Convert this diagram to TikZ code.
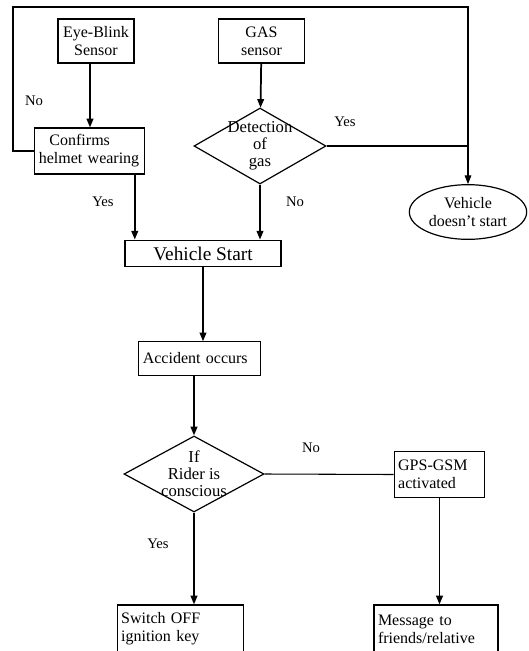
\documentclass[tikz,border=0pt]{standalone}
\usepackage{fontspec}
\setmainfont{Liberation Serif}
\usetikzlibrary{arrows.meta}
\usetikzlibrary{calc}
\usetikzlibrary{shapes.geometric}

\begin{document}
\begin{tikzpicture}[x=0.75pt, y=-0.75pt,
    box/.style={draw, rectangle, line width=0.9pt, inner sep=3pt, font=\fontsize{12}{13.5}\selectfont},
    decision/.style={draw, diamond, line width=0.9pt, inner sep=0pt},
    inside/.style={align=center, font=\fontsize{12.5}{12.8}\selectfont},
    arr/.style={line width=1.3pt, -{Triangle[length=6.5pt, width=5pt]}},
    thin line/.style={line width=0.8pt},
    answer/.style={font=\fontsize{11}{12}\selectfont}]
    \useasboundingbox (0,0) rectangle (529,651);
    \clip (0,0) rectangle (529,651);

    \node[box, minimum width=57pt, minimum height=33pt, align=center] (eye) at (96,41) {Eye-Blink\\Sensor};
    \node[box, minimum width=64pt, minimum height=33pt, align=center] (gas) at (261.5,41) {GAS\\sensor};
    \node[box, text width=76pt, minimum height=34.5pt, align=left] (confirm) at (89.5,151) {\ \ Confirms\\helmet wearing};
    \node[decision, minimum width=99pt, minimum height=57pt, label={[inside]center:{Detection\\of\\gas}}] (detect) at (260,146) {};
    \node[draw, ellipse, line width=0.9pt, minimum width=88pt, minimum height=41pt, inner sep=0pt, align=center, font=\fontsize{12}{13.5}\selectfont] (dns) at (468,212) {Vehicle\\doesn't start};
    \node[box, minimum width=117pt, minimum height=20pt, font=\fontsize{14.5}{16}\selectfont] (vstart) at (203,253.5) {Vehicle Start};
    \node[box, text width=85pt, minimum height=25pt, align=left] (accident) at (199.5,358.5) {Accident occurs};
    \node[decision, minimum width=105pt, minimum height=57pt, label={[inside]center:{If\\Rider is\\conscious}}] (rider) at (194,474) {};
    \node[box, text width=62pt, minimum height=34pt, align=left] (gps) at (439.5,474.5) {GPS-GSM\\activated};
    \node[box, text width=89pt, minimum height=36pt, align=left] (switch) at (180.5,629) {Switch OFF\\ignition key};
    \node[box, text width=87pt, minimum height=36pt, align=left] (msg) at (436,629) {Message to\\friends/relative};

    \coordinate (tl) at (13,7);
    \coordinate (es) at ($(eye.south)+(-6,0)$);
    \coordinate (cs) at ($(confirm.south east)+(-10,0)$);

    % helmet check
    \draw[arr] (es) -- (es |- confirm.north);
    \draw[thin line, -{Triangle[length=6.5pt, width=5pt]}] (confirm.west) -| (tl) -| (dns.north);
    \draw[arr] (cs) -- (cs |- vstart.north);

    % gas check
    \draw[arr] (gas) -- (detect);
    \draw[thin line] (detect.east) -- (detect.east -| dns.north);
    \draw[arr] (detect.south) -- (detect.south |- vstart.north);

    \draw[arr] (vstart) -- (vstart |- accident.north);
    \draw[arr] (accident.south -| rider.north) -- (rider.north);

    % rider state
    \draw[thin line] (rider.east) -- (gps.west);
    \draw[arr] (rider.south) -- (rider.south |- switch.north);
    \draw[arr] (gps.south) -- (gps.south |- msg.north);

    \node[answer] (no1) at (34,101) {No};
    \node[answer] (yes1) at (103,202) {Yes};
    \node[answer] (yes2) at (345,122) {Yes};
    \node[answer] (no2) at (295,202) {No};
    \node[answer] (no3) at (311,448) {No};
    \node[answer] (yes3) at (158,544) {Yes};
\end{tikzpicture}
\end{document}
